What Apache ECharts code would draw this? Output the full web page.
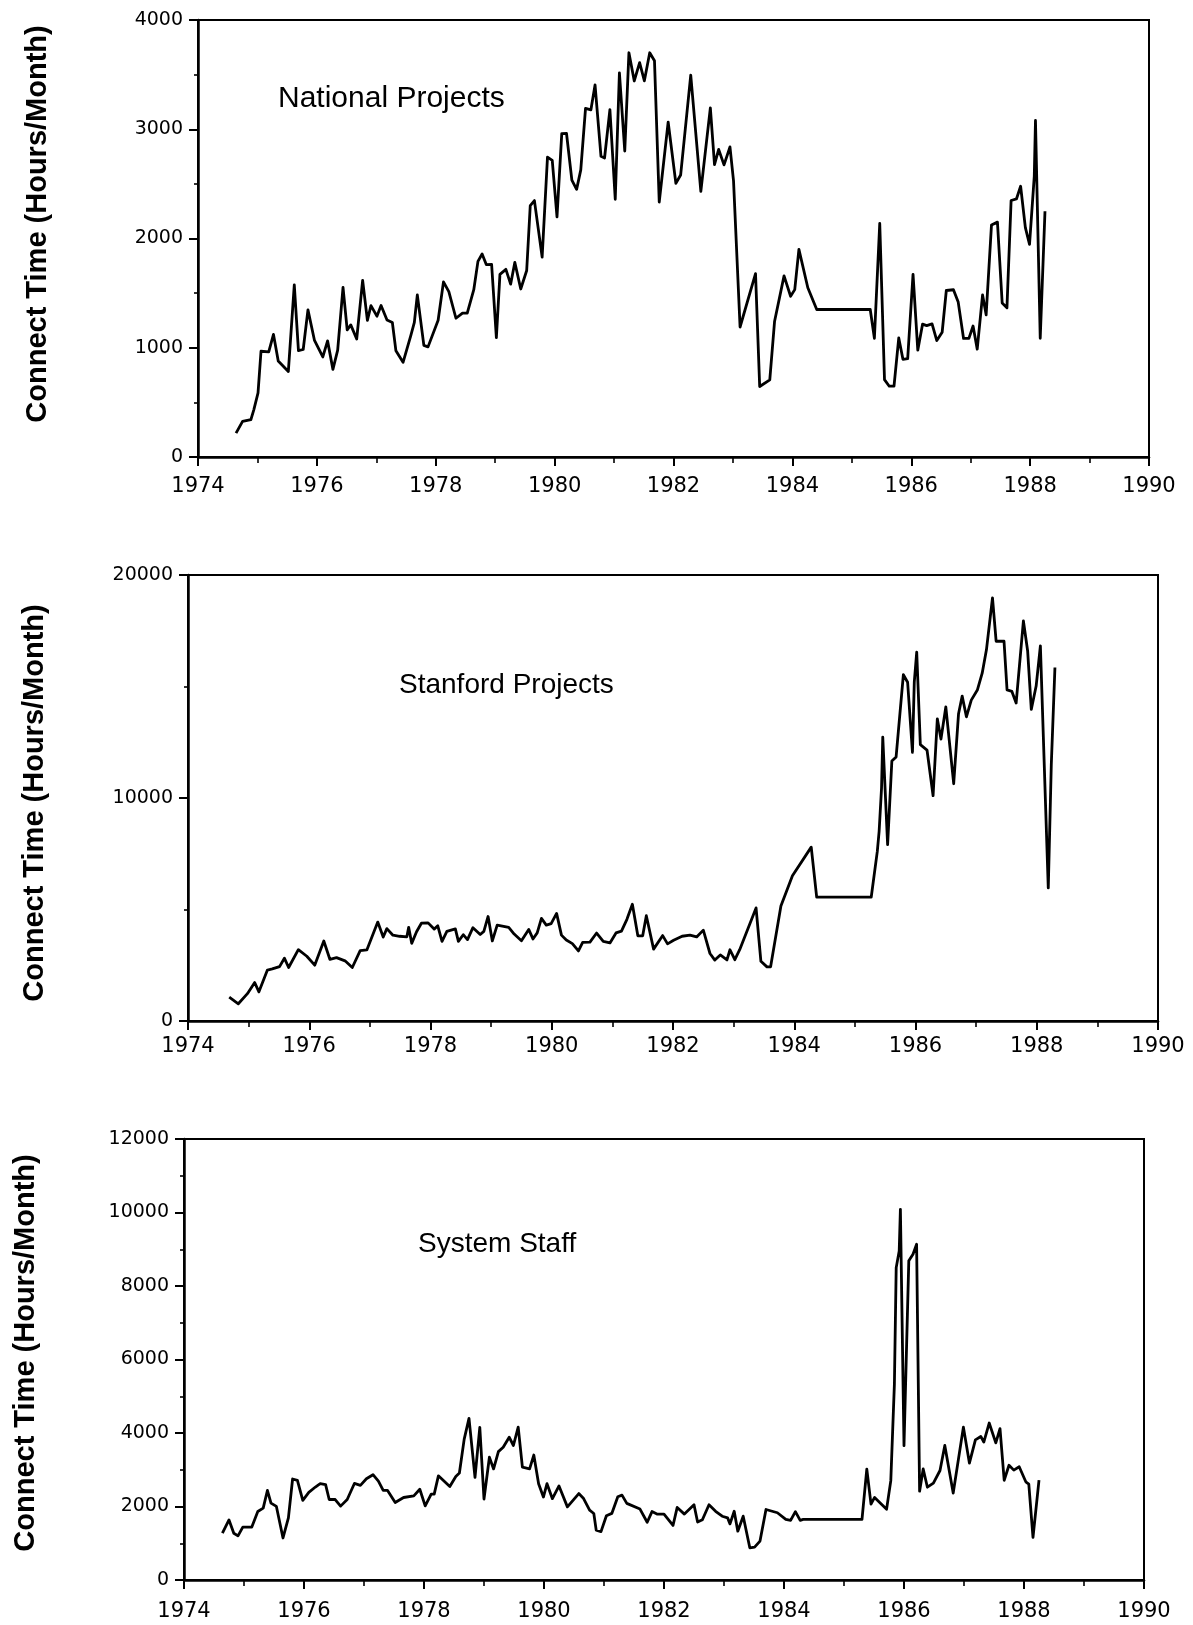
<!DOCTYPE html>
<html>
<head>
<meta charset="utf-8">
<script src="https://cdn.jsdelivr.net/npm/echarts@6/dist/echarts.min.js"></script>
<style>
html,body{margin:0;padding:0;background:#fff;}
#chart{width:1193px;height:1625px;}
</style>
</head>
<body>
<div id="chart"></div>
<script>
// ---------------- data (decimal year, hours/month) ----------------
var nationalYears = [1974.64,1974.75,1974.89,1974.94,1975.01,1975.06,1975.19,1975.27,1975.35,1975.52,1975.62,1975.69,1975.77,1975.85,1975.96,1976.10,1976.18,1976.27,1976.35,1976.44,1976.51,1976.57,1976.67,1976.77,1976.85,1976.91,1977.01,1977.08,1977.18,1977.27,1977.33,1977.45,1977.58,1977.64,1977.69,1977.80,1977.87,1978.04,1978.13,1978.22,1978.34,1978.45,1978.53,1978.64,1978.71,1978.78,1978.85,1978.94,1979.02,1979.08,1979.18,1979.26,1979.33,1979.43,1979.53,1979.59,1979.66,1979.79,1979.88,1979.96,1980.04,1980.12,1980.20,1980.29,1980.37,1980.44,1980.52,1980.61,1980.68,1980.78,1980.84,1980.93,1981.02,1981.09,1981.18,1981.25,1981.34,1981.43,1981.51,1981.60,1981.68,1981.76,1981.91,1982.04,1982.12,1982.29,1982.46,1982.62,1982.69,1982.76,1982.85,1982.95,1983.01,1983.12,1983.38,1983.45,1983.62,1983.70,1983.86,1983.97,1984.04,1984.11,1984.26,1984.41,1985.31,1985.38,1985.47,1985.55,1985.63,1985.71,1985.79,1985.86,1985.94,1986.03,1986.11,1986.19,1986.26,1986.35,1986.43,1986.52,1986.59,1986.71,1986.79,1986.88,1986.97,1987.04,1987.11,1987.20,1987.26,1987.35,1987.45,1987.53,1987.61,1987.68,1987.77,1987.84,1987.92,1987.99,1988.07,1988.09,1988.17,1988.25];
var nationalHours = [218,326,343,434,587,968,962,1122,879,783,1576,974,984,1347,1067,916,1063,802,979,1552,1163,1209,1080,1616,1251,1386,1289,1387,1254,1231,972,867,1111,1233,1484,1022,1008,1252,1603,1513,1270,1317,1318,1531,1791,1858,1761,1762,1093,1672,1718,1582,1781,1538,1707,2301,2347,1830,2745,2715,2198,2960,2961,2535,2450,2628,3191,3177,3406,2752,2737,3180,2359,3516,2801,3700,3442,3610,3443,3700,3627,2334,3066,2505,2581,3496,2432,3195,2677,2815,2674,2838,2527,1190,1679,645,706,1240,1658,1471,1532,1900,1549,1350,1350,1087,2138,708,648,648,1090,894,900,1671,978,1216,1202,1218,1066,1142,1524,1531,1418,1085,1086,1199,987,1483,1301,2124,2150,1410,1365,2348,2362,2478,2099,1947,2571,3080,1087,2250];

var stanfordYears = [1974.68,1974.83,1974.98,1975.10,1975.17,1975.31,1975.39,1975.51,1975.59,1975.66,1975.82,1975.96,1976.09,1976.24,1976.34,1976.45,1976.59,1976.71,1976.84,1976.95,1977.13,1977.22,1977.28,1977.38,1977.49,1977.61,1977.64,1977.69,1977.77,1977.85,1977.96,1978.06,1978.12,1978.19,1978.27,1978.41,1978.46,1978.54,1978.61,1978.70,1978.82,1978.88,1978.95,1979.02,1979.10,1979.29,1979.38,1979.50,1979.62,1979.69,1979.76,1979.83,1979.91,1979.99,1980.08,1980.16,1980.24,1980.34,1980.44,1980.51,1980.63,1980.74,1980.85,1980.96,1981.06,1981.15,1981.24,1981.33,1981.42,1981.50,1981.56,1981.68,1981.83,1981.91,1982.01,1982.15,1982.28,1982.39,1982.50,1982.61,1982.69,1982.78,1982.89,1982.94,1983.02,1983.10,1983.37,1983.45,1983.55,1983.61,1983.78,1983.97,1984.28,1984.37,1985.27,1985.37,1985.40,1985.44,1985.46,1985.54,1985.61,1985.68,1985.80,1985.87,1985.95,1985.98,1986.02,1986.08,1986.19,1986.29,1986.36,1986.42,1986.50,1986.63,1986.71,1986.77,1986.84,1986.92,1987.02,1987.10,1987.17,1987.27,1987.33,1987.46,1987.51,1987.59,1987.66,1987.78,1987.85,1987.91,1987.99,1988.06,1988.19,1988.24,1988.30];
var stanfordHours = [1067,772,1225,1723,1307,2286,2334,2440,2816,2400,3201,2904,2503,3586,2767,2842,2698,2400,3155,3186,4436,3764,4143,3846,3800,3775,4199,3482,4004,4385,4400,4121,4270,3568,4020,4132,3570,3870,3650,4186,3880,4020,4687,3590,4300,4200,3900,3600,4106,3680,3950,4600,4300,4370,4825,3851,3630,3470,3141,3530,3540,3946,3570,3500,3950,4030,4559,5236,3818,3820,4721,3224,3830,3460,3620,3800,3850,3770,4075,3027,2732,2960,2740,3195,2750,3200,5072,2678,2426,2430,5161,6515,7797,5551,5560,7604,8504,10456,12732,7910,11657,11840,15527,15190,12044,15200,16541,12390,12150,10103,13552,12640,14083,10640,13780,14567,13640,14390,14840,15597,16646,18973,17030,17030,14850,14780,14260,17940,16590,13972,15020,16825,5967,11500,15855];

var staffYears = [1974.64,1974.75,1974.83,1974.90,1974.98,1975.13,1975.23,1975.32,1975.39,1975.45,1975.54,1975.65,1975.74,1975.81,1975.89,1975.98,1976.08,1976.19,1976.27,1976.36,1976.42,1976.52,1976.61,1976.72,1976.84,1976.94,1977.04,1977.15,1977.24,1977.32,1977.39,1977.52,1977.66,1977.83,1977.93,1978.02,1978.12,1978.17,1978.24,1978.43,1978.53,1978.59,1978.67,1978.75,1978.85,1978.93,1979.00,1979.09,1979.16,1979.24,1979.32,1979.42,1979.49,1979.57,1979.64,1979.76,1979.83,1979.91,1979.99,1980.05,1980.14,1980.25,1980.39,1980.58,1980.66,1980.76,1980.83,1980.87,1980.95,1981.04,1981.13,1981.23,1981.30,1981.38,1981.60,1981.72,1981.80,1981.89,1982.00,1982.15,1982.22,1982.34,1982.50,1982.56,1982.64,1982.75,1982.86,1982.97,1983.06,1983.10,1983.17,1983.23,1983.32,1983.43,1983.51,1983.60,1983.70,1983.89,1984.03,1984.11,1984.19,1984.27,1984.32,1985.30,1985.38,1985.45,1985.51,1985.71,1985.78,1985.84,1985.87,1985.92,1985.94,1986.00,1986.08,1986.15,1986.21,1986.26,1986.32,1986.39,1986.49,1986.60,1986.68,1986.82,1986.99,1987.09,1987.19,1987.28,1987.33,1987.42,1987.53,1987.60,1987.67,1987.75,1987.83,1987.92,1988.03,1988.08,1988.15,1988.25];
var staffHours = [1273,1635,1273,1201,1438,1440,1864,1955,2436,2093,2002,1144,1688,2748,2710,2168,2386,2530,2623,2596,2190,2190,2010,2190,2627,2575,2755,2865,2690,2440,2440,2107,2245,2290,2470,2018,2336,2336,2835,2545,2818,2910,3834,4398,2795,4154,2204,3340,3023,3494,3613,3885,3660,4158,3072,3026,3400,2620,2258,2620,2213,2560,1990,2352,2217,1900,1810,1357,1315,1750,1812,2267,2310,2085,1930,1572,1862,1790,1790,1484,1975,1793,2047,1577,1640,2048,1870,1735,1690,1527,1872,1329,1737,877,895,1059,1919,1830,1650,1622,1860,1624,1650,1650,3017,2066,2248,1928,2704,5329,8500,8950,10085,3657,8684,8862,9136,2416,3022,2525,2635,2980,3661,2365,4160,3182,3813,3906,3752,4271,3730,4118,2714,3122,2990,3080,2672,2610,1160,2720];

var panelTitles = ["National Projects", "Stanford Projects", "System Staff"];
var yAxisTitle = "Connect Time (Hours/Month)";
var yMax = [4000, 20000, 12000];
var yInterval = [1000, 10000, 2000];
var xMin = 1974, xMax = 1990, xInterval = 2;

// ---------------- layout ----------------
var grids = [
  {left: 198, top: 20, width: 951, height: 437},
  {left: 188, top: 575, width: 970, height: 446},
  {left: 184, top: 1139, width: 960, height: 441}
];
var xLabelMargin = [19, 15, 21];
var titlePos = [[278, 99], [399, 685], [418, 1244]];
var titleSize = [30, 28, 28];
var yTitlePos = [[38, 224], [35, 803], [26, 1353]];

function pairs(xs, ys) { return xs.map(function (x, i) { return [x, ys[i]]; }); }
var seriesData = [pairs(nationalYears, nationalHours), pairs(stanfordYears, stanfordHours), pairs(staffYears, staffHours)];

var FONT = 'DejaVu Sans';
var option = {
  animation: false,
  backgroundColor: '#ffffff',
  grid: grids.map(function (g) {
    return {left: g.left, top: g.top, width: g.width, height: g.height, show: true,
      borderColor: '#000', borderWidth: 2, containLabel: false, outerBoundsMode: 'none'};
  }),
  xAxis: grids.map(function (g, i) {
    return {
      type: 'value', gridIndex: i, min: xMin, max: xMax, interval: xInterval,
      axisLine: {show: true, onZero: false, lineStyle: {color: '#000', width: 2.5}},
      axisTick: {show: true, length: 9, lineStyle: {color: '#000', width: 2}},
      minorTick: {show: true, splitNumber: 2, length: 6, lineStyle: {color: '#000', width: 1.6}},
      splitLine: {show: false},
      axisLabel: {color: '#000', fontFamily: FONT, fontSize: 21, margin: xLabelMargin[i],
        formatter: function (v) { return String(v); }}
    };
  }),
  yAxis: grids.map(function (g, i) {
    return {
      type: 'value', gridIndex: i, min: 0, max: yMax[i], interval: yInterval[i],
      axisLine: {show: true, onZero: false, lineStyle: {color: '#000', width: 2.5}},
      axisTick: {show: true, length: 9, lineStyle: {color: '#000', width: 2}},
      minorTick: {show: true, splitNumber: 2, length: 4, lineStyle: {color: '#000', width: 1.6}},
      splitLine: {show: false},
      axisLabel: {color: '#000', fontFamily: FONT, fontSize: 19, margin: 15,
        formatter: function (v) { return String(v); }}
    };
  }),
  series: seriesData.map(function (d, i) {
    return {
      type: 'line', xAxisIndex: i, yAxisIndex: i, data: d,
      showSymbol: false, symbol: 'none', silent: true,
      lineStyle: {color: '#000', width: 2.8, join: 'round'}
    };
  }),
  graphic: []
};

panelTitles.forEach(function (t, i) {
  option.graphic.push({
    type: 'text', x: titlePos[i][0], y: titlePos[i][1], silent: true,
    style: {text: t, fill: '#000', font: 'normal ' + titleSize[i] + 'px "Liberation Sans", Arial, sans-serif',
      textAlign: 'left', textVerticalAlign: 'middle'}
  });
  option.graphic.push({
    type: 'text', x: yTitlePos[i][0], y: yTitlePos[i][1], rotation: Math.PI / 2, silent: true,
    style: {text: yAxisTitle, fill: '#000', font: 'bold 29px "Liberation Sans", Arial, sans-serif',
      textAlign: 'center', textVerticalAlign: 'middle'}
  });
});

var chart = echarts.init(document.getElementById('chart'), null, {renderer: 'canvas', width: 1193, height: 1625});
chart.setOption(option);
</script>
</body>
</html>
